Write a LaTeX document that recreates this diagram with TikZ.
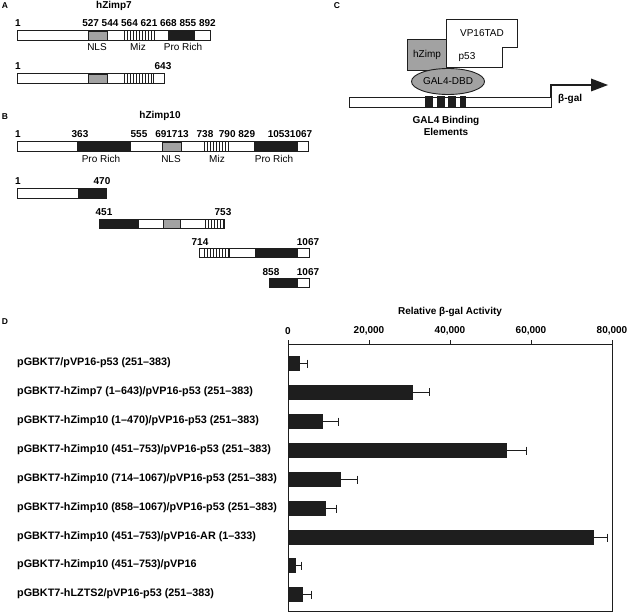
\documentclass[tikz,border=0pt]{standalone}
\usepackage{fontspec}
\setmainfont{Liberation Sans}
\usetikzlibrary{shapes.geometric}
\definecolor{dk}{HTML}{1E1E1E}
\definecolor{gr}{HTML}{A2A2A2}
\newcommand\pbar[3]{\fill[white] (#2,#1) rectangle (#3,{#1+9.5});}
\newcommand\pblk[3]{\fill[dk] (#2,#1) rectangle (#3,{#1+9.5});}
\newcommand\pgry[3]{\filldraw[fill=gr,draw=dk,line width=0.9pt] (#2,#1) rectangle (#3,{#1+9.5});}
\newcommand\pmiz[3]{\draw[line width=0.9pt,dk] (#2,#1)--++(0,9.5) (#3,#1)--++(0,9.5);
  \pgfmathsetmacro\mizn{int((#3-#2-4)/3)}
  \foreach \i in {0,...,\mizn} \draw[line width=1.2pt,dk] ({#2+3.5+3*\i},#1) -- ++(0,9.5);}
\newcommand\pout[3]{\draw[line width=1pt,dk] (#2,#1) rectangle (#3,{#1+9.5});}
\newcommand\hbr[5]{%
  \fill[dk] (288,{#2-7.5}) rectangle (#3,{#2+7.5});
  \draw[line width=1pt,dk] (#3,#2) -- (#4,#2) (#4,{#2-4}) -- (#4,{#2+4});
  \node[blab] (#1) at (17,{#2-0.5}) {#5};}
\begin{document}
\begin{tikzpicture}[x=1pt,y=-1pt,
  every node/.style={inner sep=0pt,font=\fontsize{10}{12}\selectfont},
  num/.style={font=\bfseries\fontsize{10}{12}\selectfont},
  dlab/.style={font=\fontsize{10}{12}\selectfont},
  panel/.style={font=\bfseries\fontsize{8.5}{10}\selectfont},
  blab/.style={font=\bfseries\fontsize{10.8}{12}\selectfont,anchor=west},
  ttl/.style={font=\bfseries\fontsize{10}{12}\selectfont}]
\useasboundingbox (0,0) rectangle (628,612);
\fill[white] (0,0) rectangle (628,612);

% ---------- Panel A ----------
\node[panel] (pA) at (5,6) {A};
\node[ttl] (tA) at (114,6) {hZimp7};
\node[num] (a1) at (18,23) {1};
\node[num] (anums) at (149,23) {527 544 564 621 668 855 892};
\pbar{31}{17}{210}\pgry{31}{88}{107}\pmiz{31}{124}{154}\pblk{31}{168}{195}\pout{31}{17}{210}
\node[dlab] (aNLS) at (97,47) {NLS};
\node[dlab] (aMiz) at (138,47) {Miz};
\node[dlab] (aPro) at (183,47) {Pro Rich};
\node[num] (b1) at (18,66) {1};
\node[num] (b643) at (163,66) {643};
\pbar{74}{17}{164}\pgry{74}{88}{107}\pmiz{74}{124}{153}\pout{74}{17}{164}

% ---------- Panel B ----------
\node[panel] (pB) at (5,117) {B};
\node[ttl] (tB) at (160,116) {hZimp10};
\node[num] (c1) at (18,134) {1};
\node[num] (c363) at (80,134) {363};
\node[num] (c555) at (139,134) {555};
\node[num] (c691) at (172,134) {691713};
\node[num] (c738) at (205,134) {738};
\node[num] (c790) at (237,134) {790 829};
\node[num] (c1053) at (290,134) {10531067};
\pbar{142}{17}{308}\pblk{142}{77}{131}\pgry{142}{162}{181}\pmiz{142}{204}{228}\pblk{142}{254}{298}\pout{142}{17}{308}
\node[dlab] (bPro1) at (101,159) {Pro Rich};
\node[dlab] (bNLS) at (171,159) {NLS};
\node[dlab] (bMiz) at (217,159) {Miz};
\node[dlab] (bPro2) at (274,159) {Pro Rich};
% fragment 1-470
\node[num] (d1) at (18,181) {1};
\node[num] (d470) at (102,181) {470};
\pbar{189}{17}{106}\pblk{189}{78}{106}\pout{189}{17}{106}
% fragment 451-753
\node[num] (e451) at (104,212) {451};
\node[num] (e753) at (223,212) {753};
\pbar{219}{99}{224}\pblk{219}{99}{139}\pgry{219}{163}{180}\pmiz{219}{205}{224}\pout{219}{99}{224}
% fragment 714-1067
\node[num] (f714) at (200,242) {714};
\node[num] (f1067) at (308,242) {1067};
\pbar{248}{199}{309}\pmiz{248}{204}{229}\pblk{248}{255}{298}\pout{248}{199}{309}
% fragment 858-1067
\node[num] (g858) at (271,272) {858};
\node[num] (g1067) at (308,272) {1067};
\pbar{278}{269}{309}\pblk{278}{269}{298}\pout{278}{269}{309}

% ---------- Panel C ----------
\node[panel] (pC) at (337,6) {C};
\draw[line width=0.9pt,dk,fill=white] (446,19) -- (517,19) -- (517,47) -- (502,47) -- (502,67) -- (446,67) -- cycle;
\node[dlab] (vp16) at (482,33) {VP16TAD};
\node[dlab] (p53) at (467,57) {p53};
\filldraw[fill=gr,draw=dk,line width=0.9pt] (407,39) rectangle (446,70);
\node[dlab] (hz) at (427,55) {hZimp};
\draw[line width=0.9pt,dk,fill=white] (349,97) rectangle (551,107);
\foreach \a/\b in {425/433,436.5/444.5,448/456,459.5/466} \fill[dk] (\a,96) rectangle (\b,107.5);
\node[ellipse,draw=dk,line width=0.9pt,fill=gr,minimum width=73pt,minimum height=26pt,
  font=\fontsize{10}{12}\selectfont] (gal4) at (448,81.5) {GAL4-DBD};
\coordinate (tss) at (551,97);
\coordinate (tip) at (608,85);
\draw[line width=1.2pt,dk] (tss) -- (551,85) -- (593,85);
\fill[dk] (591,78.5) -- (tip) -- (591,91.5) -- cycle;
\node[num,anchor=west] (bgal) at (558,99) {β-gal};
\node[num,align=center] (gbe) at (446,125.5) {GAL4 Binding\\Elements};

% ---------- Panel D ----------
\node[panel] (pD) at (5,322) {D};
\node[ttl] (tD) at (450,312) {Relative β-gal Activity};
\foreach \x/\t in {288/0,369/{20,000},450/{40,000},531/{60,000},612/{80,000}} {
  \node[num] at (\x,331) {\t};
  \draw[line width=1pt,dk] (\x,344) -- (\x,340);
}
\hbr{l1}{363.5}{300}{307}{pGBKT7/pVP16-p53 (251–383)}
\hbr{l2}{392}{413}{429}{pGBKT7-hZimp7 (1–643)/pVP16-p53 (251–383)}
\hbr{l3}{421.5}{323}{338}{pGBKT7-hZimp10 (1–470)/pVP16-p53 (251–383)}
\hbr{l4}{450.5}{507}{526}{pGBKT7-hZimp10 (451–753)/pVP16-p53 (251–383)}
\hbr{l5}{479.5}{341}{357}{pGBKT7-hZimp10 (714–1067)/pVP16-p53 (251–383)}
\hbr{l6}{508.5}{326}{336}{pGBKT7-hZimp10 (858–1067)/pVP16-p53 (251–383)}
\hbr{l7}{537.5}{594}{607}{pGBKT7-hZimp10 (451–753)/pVP16-AR (1–333)}
\hbr{l8}{565.5}{296}{301}{pGBKT7-hZimp10 (451–753)/pVP16}
\hbr{l9}{594.5}{303}{311}{pGBKT7-hLZTS2/pVP16-p53 (251–383)}
\draw[line width=1pt,dk] (288,344) rectangle (612,611);
\end{tikzpicture}
\end{document}
